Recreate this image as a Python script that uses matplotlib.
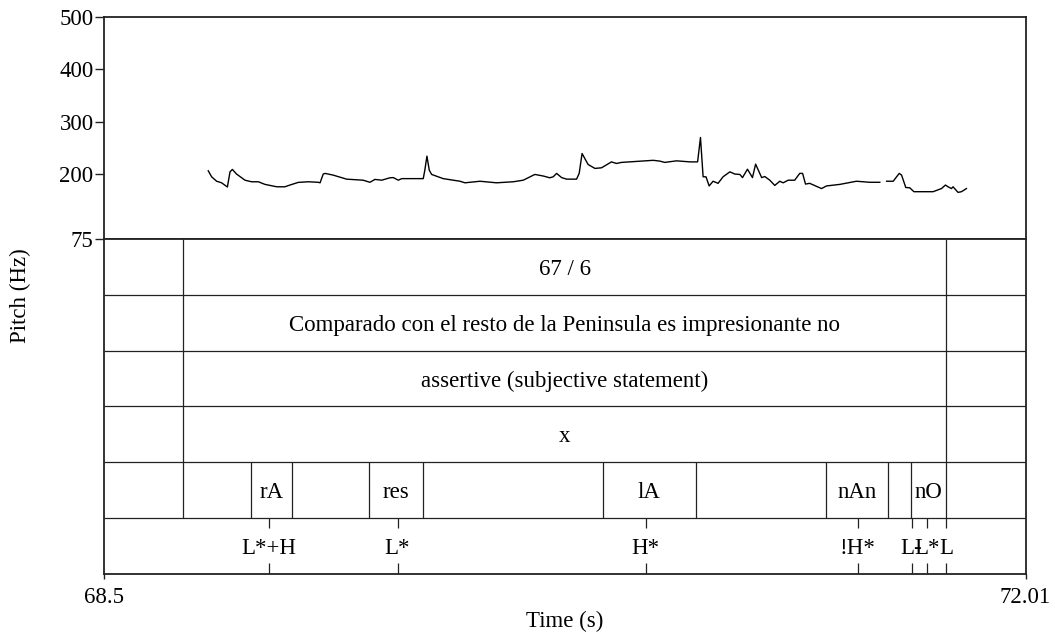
#!/usr/bin/env python3
"""Praat-style picture: pitch track above a six-tier TextGrid (Sp_ToBI labels)."""

import numpy as np
import matplotlib
matplotlib.use("Agg")
from matplotlib import pyplot as plt

T_START, T_END = 68.5, 72.01
F0_MIN, F0_MAX = 75, 500
F0_TICKS = [75, 200, 300, 400, 500]

# pitch track (s, Hz); NaN marks the unvoiced gap
pitch_t = [
    68.897, 68.910, 68.929, 68.948, 68.970, 68.980, 68.989, 69.005, 69.037, 69.062,
    69.088, 69.113, 69.158, 69.189, 69.208, 69.240, 69.278, 69.316, 69.323, 69.335,
    69.342, 69.373, 69.424, 69.487, 69.513, 69.532, 69.558, 69.589, 69.602, 69.621,
    69.634, 69.716, 69.722, 69.730, 69.739, 69.748, 69.792, 69.856, 69.875, 69.932,
    69.995, 70.059, 70.097, 70.141, 70.173, 70.198, 70.211, 70.224, 70.243, 70.262,
    70.300, 70.310, 70.321, 70.344, 70.370, 70.395, 70.433, 70.452, 70.471, 70.592,
    70.617, 70.636, 70.681, 70.732, 70.761, 70.772, 70.782, 70.793, 70.805, 70.820,
    70.839, 70.858, 70.884, 70.903, 70.922, 70.932, 70.951, 70.970, 70.982, 71.005,
    71.017, 71.036, 71.055, 71.074, 71.087, 71.106, 71.131, 71.150, 71.161, 71.172,
    71.188, 71.233, 71.252, 71.303, 71.366, 71.417, 71.455, 71.468, 71.481, 71.506,
    71.529, 71.538, 71.554, 71.569, 71.585, 71.620, 71.658, 71.690, 71.705, 71.715,
    71.728, 71.734, 71.753, 71.766, 71.785,
]
pitch_hz = [
    206, 194.5, 186, 183, 175, 204, 208.6, 199.7, 188, 185,
    185, 180, 175.4, 175.4, 178.7, 183.8, 185, 184, 183, 199.7,
    201, 197.7, 190, 188, 184, 189.5, 188, 192.6, 193, 188,
    191, 191, 207, 234, 207, 199, 191, 186, 183, 186,
    183, 185, 188, 199, 196, 192.6, 194.5, 201, 193, 190,
    190, 201, 239, 218, 210.5, 211.7, 223, 220, 222, 226,
    224.5, 222, 225, 223, 223, 269.7, 194.5, 194.5, 177, 186,
    182, 194.5, 204, 199.7, 199, 193, 209, 193, 218.7, 193,
    195, 188, 178, 186, 183, 188, 188, 201, 201, 180.6,
    182, 172, 177, 180, 186, 184, 184, np.nan, 186, 186,
    201, 197.7, 174, 173.5, 166, 166, 166, 172, 178.7, 175.4,
    172, 175.4, 164.7, 166, 172,
]

# interval tiers 1-4: one labelled interval each, same boundaries
phrase_bounds = [68.80, 71.709]
phrase_labels = [
    "67 / 6",
    "Comparado con el resto de la Peninsula es impresionante no",
    "assertive (subjective statement)",
    "x",
]

# tier 5: stressed syllables
syll_bounds = [68.80, 69.061, 69.215, 69.508, 69.714, 70.399, 70.756,
               71.252, 71.486, 71.574, 71.709]
syll_labels = ["", "rA", "", "res", "", "lA", "", "nAn", "", "nO"]

# tier 6: tones (point tier)
tone_times = [69.129, 69.618, 70.563, 71.371, 71.576, 71.635, 71.709]
tone_labels = ["L*+H", "L*", "H*", "!H*", "L-", "L*", "L"]

N_TIERS = 6
LINE = "#222222"
FS = 16.5


def draw_interval_tier(ax, row, bounds, labels):
    ax.vlines(bounds, row, row + 1, color=LINE, lw=0.9)
    for left, right, lab in zip(bounds[:-1], bounds[1:], labels):
        if lab:
            ax.text((left + right) / 2, row + 0.5, lab, ha="center",
                    va="center_baseline", fontsize=FS)


def draw_point_tier(ax, row, times, labels):
    ax.vlines(times, row + 0.81, row + 1, color=LINE, lw=0.9)
    ax.vlines(times, row, row + 0.19, color=LINE, lw=0.9)
    for t, lab in zip(times, labels):
        ax.text(t, row + 0.5, lab, ha="center", va="center_baseline", fontsize=FS)


def main():
    plt.rcParams["font.family"] = ["Liberation Serif", "DejaVu Serif"]
    W, H = 1055, 639
    fig = plt.figure(figsize=(W / 100, H / 100), dpi=100)

    left, right = 104 / W, 1025.5 / W
    y_top, y_mid, y_bot = 17 / H, 239.3 / H, 573.5 / H
    ax_p = fig.add_axes([left, 1 - y_mid, right - left, y_mid - y_top])
    ax_g = fig.add_axes([left, 1 - y_bot, right - left, y_bot - y_mid], sharex=ax_p)

    # pitch panel
    ax_p.plot(pitch_t, pitch_hz, color="black", lw=1.0)
    ax_p.set_ylim(F0_MIN, F0_MAX)
    ax_p.set_yticks(F0_TICKS)
    ax_p.set_yticklabels([str(v) for v in F0_TICKS], fontsize=FS)
    ax_p.tick_params(axis="y", direction="out", length=6.5, width=1.0, pad=1,
                     color=LINE)
    ax_p.tick_params(axis="x", bottom=False, labelbottom=False)

    # text grid
    ax_g.set_xlim(T_START, T_END)
    ax_g.set_ylim(0, N_TIERS)
    ax_g.hlines(range(1, N_TIERS), T_START, T_END, color=LINE, lw=0.9)
    for i, lab in enumerate(phrase_labels):
        draw_interval_tier(ax_g, N_TIERS - 1 - i, phrase_bounds, [lab])
    draw_interval_tier(ax_g, 1, syll_bounds, syll_labels)
    draw_point_tier(ax_g, 0, tone_times, tone_labels)

    ax_g.set_yticks([])
    ax_g.set_xticks([T_START, T_END])
    ax_g.set_xticklabels(["68.5", "72.01"], fontsize=FS)
    ax_g.tick_params(axis="x", direction="out", length=3.6, width=1.0, pad=6,
                     color=LINE)

    for ax in (ax_p, ax_g):
        for sp in ax.spines.values():
            sp.set_color(LINE)
            sp.set_linewidth(1.3)

    fig.text((left + right) / 2, 1 - 621 / H, "Time (s)", ha="center",
             va="center", fontsize=FS)
    fig.text(20 / W, 1 - 296 / H, "Pitch (Hz)", ha="center", va="center",
             rotation=90, fontsize=FS)

    fig.savefig("out.png", dpi=100)


if __name__ == "__main__":
    main()
